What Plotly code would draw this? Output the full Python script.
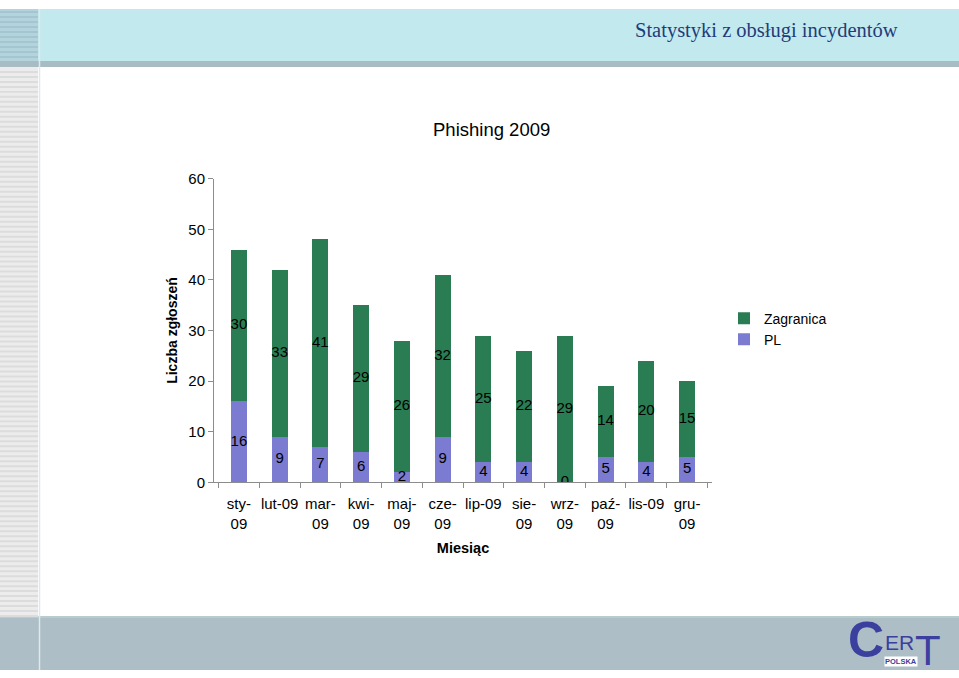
import plotly.graph_objects as go

months = ["sty-<br>09", "lut-09", "mar-<br>09", "kwi-<br>09", "maj-<br>09", "cze-<br>09",
          "lip-09", "sie-<br>09", "wrz-<br>09", "paź-<br>09", "lis-09", "gru-<br>09"]
pl = [16, 9, 7, 6, 2, 9, 4, 4, 0, 5, 4, 5]
zagranica = [30, 33, 41, 29, 26, 32, 25, 22, 29, 14, 20, 15]

W, H = 959, 678
# the page shows the figure between y=8 and y=670; map target pixels accordingly
TOP, HEFF = 8.0, 662.0

fig = go.Figure()

fig.add_trace(go.Bar(x=months, y=pl, name="PL", marker=dict(color="#7b7bd2", line=dict(width=0)),
                     width=0.39))
fig.add_trace(go.Bar(x=months, y=zagranica, name="Zagranica", marker=dict(color="#2a7d52", line=dict(width=0)),
                     width=0.39))

lblfont = dict(family="Arial, Liberation Sans", size=15, color="black")
fig.add_trace(go.Scatter(x=months, y=[v / 2 for v in pl], mode="text", text=[str(v) for v in pl],
                         textfont=lblfont, showlegend=False, hoverinfo="skip"))
fig.add_trace(go.Scatter(x=months, y=[p + z / 2 for p, z in zip(pl, zagranica)], mode="text",
                         text=[str(v) for v in zagranica],
                         textfont=lblfont, showlegend=False, hoverinfo="skip"))

def py(pix):
    v = 1 - (pix - TOP) / HEFF
    return min(1.0, max(0.0, v))

def px(pix):
    return pix / W

shapes = []
shapes.append(dict(type="rect", xref="paper", yref="paper", x0=0, x1=1, y0=py(60), y1=1,
                   fillcolor="#c2e9ee", line_width=0, layer="below"))
shapes.append(dict(type="rect", xref="paper", yref="paper", x0=0, x1=1, y0=py(66), y1=py(60),
                   fillcolor="#a8bcc4", line_width=0, layer="below"))
shapes.append(dict(type="rect", xref="paper", yref="paper", x0=0, x1=1, y0=0, y1=py(616),
                   fillcolor="#adbec6", line_width=0, layer="below"))
shapes.append(dict(type="rect", xref="paper", yref="paper", x0=0, x1=1, y0=py(618), y1=py(616),
                   fillcolor="#b9cccc", line_width=0, layer="below"))
shapes.append(dict(type="rect", xref="paper", yref="paper", x0=0, x1=px(38), y0=py(616), y1=py(66),
                   fillcolor="#ececec", line_width=0, layer="below"))
shapes.append(dict(type="rect", xref="paper", yref="paper", x0=0, x1=px(38), y0=py(60), y1=1,
                   fillcolor="#b3d4dc", line_width=0, layer="below"))
for yy in range(10, 616, 5):
    if 58 <= yy <= 67:
        continue
    col = "#a3c6d0" if yy < 58 else "#dcdcdc"
    shapes.append(dict(type="rect", xref="paper", yref="paper", x0=0, x1=px(38),
                       y0=py(yy + 2), y1=py(yy), fillcolor=col, line_width=0, layer="below"))
shapes.append(dict(type="line", xref="paper", yref="paper", x0=px(39.5), x1=px(39.5), y0=0, y1=1,
                   line=dict(color="#dfe8ec", width=1.5), layer="below"))

logo = "#3b3f9e"
annotations = [
    dict(text="Statystyki z obsługi incydentów", xref="paper", yref="paper", x=px(900), y=py(30),
         xanchor="right", yanchor="middle", showarrow=False,
         font=dict(family="Liberation Serif, DejaVu Serif, serif", size=20.5, color="#1f3c78")),
    dict(text="Phishing 2009", xref="paper", yref="paper", x=px(491), y=py(129),
         xanchor="center", yanchor="middle", showarrow=False,
         font=dict(family="Arial, Liberation Sans", size=18.5, color="black")),
    dict(text="<b>C</b>", xref="paper", yref="paper", x=px(866), y=py(640),
         xanchor="center", yanchor="middle", showarrow=False,
         font=dict(family="Liberation Sans, Arial", size=50, color=logo)),
    dict(text="ER", xref="paper", yref="paper", x=px(883), y=py(642),
         xanchor="left", yanchor="middle", showarrow=False,
         font=dict(family="Liberation Sans, Arial", size=21, color=logo)),
    dict(text="T", xref="paper", yref="paper", x=px(928), y=py(650),
         xanchor="center", yanchor="middle", showarrow=False,
         font=dict(family="Liberation Sans Narrow, Liberation Sans, Arial", size=42, color=logo)),
    dict(text="<b>POLSKA</b>", xref="paper", yref="paper", x=px(901), y=py(661),
         xanchor="center", yanchor="middle", showarrow=False, bgcolor="white", borderpad=0,
         font=dict(family="Liberation Sans Narrow, Liberation Sans, Arial", size=7.5, color=logo)),
]

fig.update_layout(
    width=W, height=H,
    margin=dict(l=0, r=0, t=0, b=0),
    paper_bgcolor="white", plot_bgcolor="white",
    barmode="stack",
    font=dict(family="Arial, Liberation Sans", size=15, color="black"),
    showlegend=True,
    legend=dict(x=px(724), y=py(302), xanchor="left", yanchor="top", traceorder="reversed",
                font=dict(size=14, color="black"), bgcolor="rgba(0,0,0,0)", itemwidth=30,
                tracegroupgap=0),
    shapes=shapes,
    annotations=annotations,
    xaxis=dict(domain=[px(214), px(712)], showgrid=False, showline=True, linecolor="#8c8c8c",
               ticks="outside", ticklen=5, tickcolor="#8c8c8c", tickson="boundaries",
               tickfont=dict(size=15, color="black"), tickangle=0, ticklabelstandoff=8,
               title=dict(text="<b>Miesiąc</b>", font=dict(size=14.5, color="black"), standoff=12)),
    yaxis=dict(domain=[py(482), py(178)], range=[0, 60], dtick=10, showgrid=False, zeroline=False,
               showline=True, linecolor="#8c8c8c", ticks="outside", ticklen=5, tickcolor="#8c8c8c",
               tickfont=dict(size=15, color="black"),
               title=dict(text="<b>Liczba zgłoszeń</b>", font=dict(size=14, color="black"), standoff=7)),
)

fig.write_html("out.html")
